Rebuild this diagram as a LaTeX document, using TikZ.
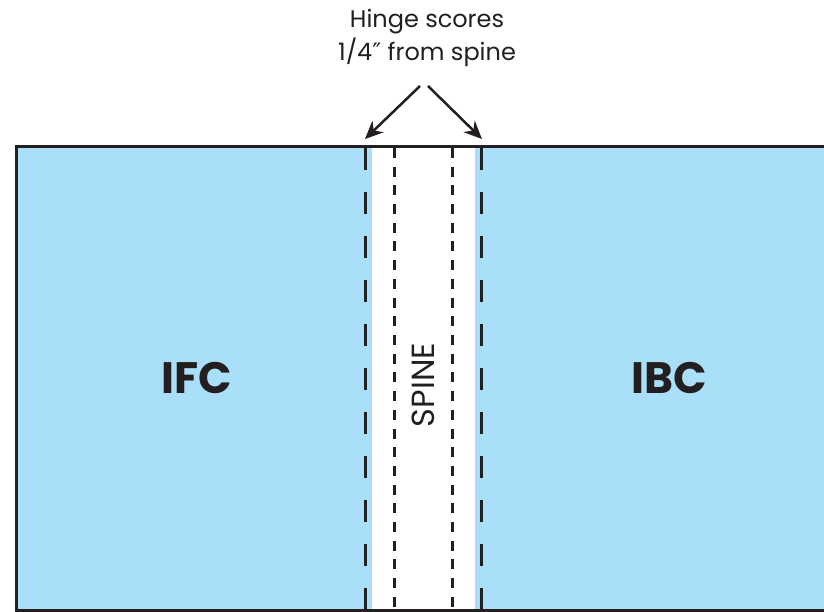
\documentclass[tikz,border=0pt]{standalone}
\usepackage{fontspec}
\setmainfont{Poppins}
\newfontfamily\primefont{DejaVu Sans}
\usetikzlibrary{arrows.meta}
\definecolor{cover}{HTML}{A9DFF9}
\definecolor{ink}{HTML}{231F20}
\tikzset{
  hinge/.style={ink, line width=3pt, dash pattern=on 22pt off 22pt},
  fold/.style={ink, line width=3pt, dash pattern=on 10pt off 8.7pt},
  pointer/.style={ink, line width=2.5pt, -{Stealth[length=18pt,width=16pt]}},
  panel/.style={font=\fontsize{44}{44}\selectfont\bfseries, text=ink}
}
\begin{document}
\begin{tikzpicture}[x=1pt, y=-1pt]
  \useasboundingbox (0,0) rectangle (824,612);
  \fill[cover] (16,147) rectangle (830,610);
  \fill[white] (372,147) rectangle (475,610);
  \draw[ink, line width=3pt] (830,147) -- (16.5,147) -- (16.5,610) -- (830,610);
  \draw[hinge] (365,148) -- (365,610) (481,148) -- (481,610);
  \draw[fold] (394,148) -- (394,610) (452,148) -- (452,610);
  \node[panel] (ifc) at (197,378) {IFC};
  \node[panel] (ibc) at (669,378) {IBC};
  \node[rotate=90, text=ink, font=\fontsize{32}{32}\selectfont] (spine) at (423,385) {SPINE};
  \node[align=center, text=ink, font=\fontsize{24}{33}\selectfont] (note) at (427,38) {Hinge scores\\1/4{\primefont ″} from spine};
  \coordinate (lfrom) at (420,86);
  \coordinate (rfrom) at (428,86);
  \coordinate (ltip) at (365,139);
  \coordinate (rtip) at (482,139);
  \draw[pointer] (lfrom) -- (ltip);
  \draw[pointer] (rfrom) -- (rtip);
\end{tikzpicture}
\end{document}
